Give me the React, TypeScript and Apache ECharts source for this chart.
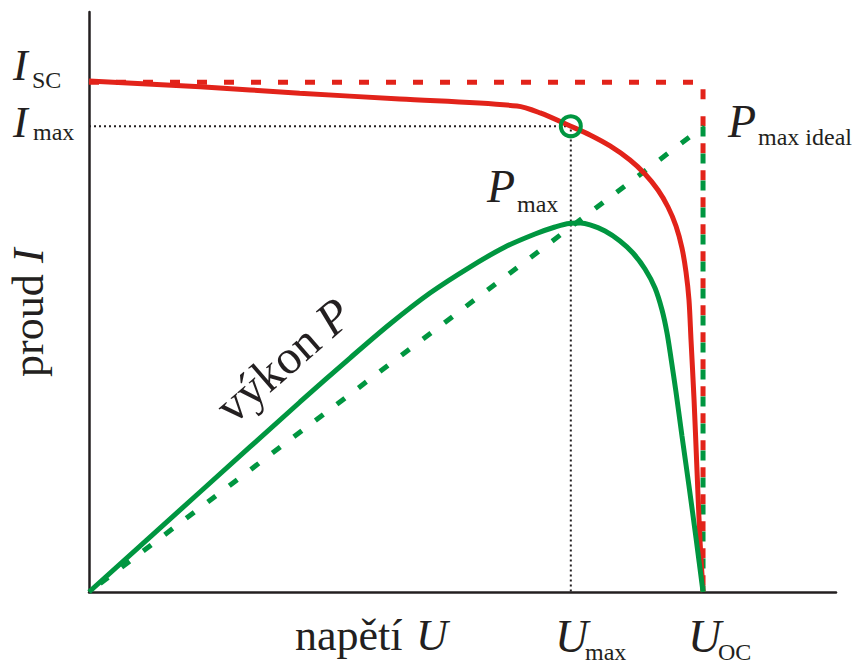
import React, { useEffect, useRef } from "react";
import * as echarts from "echarts";

// Voltage (normalised 0..100) and current / power values (normalised 0..100)
const U_MAX = 64.5;
const U_OC = 82.2;
const I_SC = 87.9;
const I_MAX = 80.3;
const P_IDEAL = 80.2;

const ivU = [0, 14.9, 28.2, 41.6, 57.3, 60.4, 64.5, 67.07, 69.75, 72.42, 74.43, 76.17, 77.51, 78.58, 79.38, 79.92, 80.32, 80.59, 81.0, 81.39, 81.79, 82.2];
const ivI = [88.1, 87.1, 86.0, 85.0, 83.8, 82.6, 80.3, 78.79, 76.9, 74.48, 72.07, 69.31, 66.38, 63.1, 59.31, 55.17, 50.34, 43.45, 33.1, 21.0, 9.0, 0];

const pU = [0, 14.86, 28.25, 34.94, 40.29, 45.65, 51.0, 55.69, 59.71, 62.38, 64.3, 65.8, 67.07, 69.08, 71.08, 72.82, 74.43, 75.77, 76.71, 77.38, 77.91, 78.58, 79.38, 80.32, 81.26, 82.2];
const pP = [0, 17.24, 32.76, 40.34, 46.21, 51.55, 56.03, 59.48, 61.72, 62.93, 63.55, 63.6, 63.28, 62.24, 60.52, 58.45, 55.69, 52.41, 48.62, 44.66, 40.34, 34.48, 26.9, 18.28, 9.31, 0];

const RED = "#e2231a";
const GREEN = "#009640";
const INK = "#231f20";
const SERIF = "Liberation Serif, serif";

function txt(text: string, x: number, baseline: number, size: number, italic: boolean) {
  return {
    type: "text",
    x,
    y: baseline - 0.34 * size,
    z: 100,
    style: {
      text,
      fill: INK,
      fontFamily: SERIF,
      fontSize: size,
      fontStyle: italic ? "italic" : "normal",
      align: "left",
      verticalAlign: "middle",
    },
  };
}

// rotated two-part label; origin = baseline start on screen
function rotLabel(x: number, y: number, deg: number, size: number, a: string, b: string, bOffset: number) {
  return {
    type: "group",
    x,
    y,
    rotation: (deg * Math.PI) / 180,
    z: 100,
    children: [txt(a, 0, 0, size, false), txt(b, bOffset, 0, size, true)],
  };
}

export default function App() {
  const ref = useRef<HTMLDivElement>(null);
  useEffect(() => {
    if (!ref.current) return;
    const chart = echarts.init(ref.current, undefined, { renderer: "svg" });
    const zip = (a: number[], b: number[]) => a.map((v, i) => [v, b[i]]);
    const axisCommon = {
      type: "value",
      min: 0,
      max: 100,
      axisLine: { show: true, lineStyle: { color: INK, width: 2.5 } },
      axisTick: { show: false },
      axisLabel: { show: false },
      splitLine: { show: false },
    };
    const SUB = 24;
    chart.setOption({
      animation: false,
      grid: { left: 89, top: 12, right: 21, bottom: 72 },
      xAxis: axisCommon,
      yAxis: axisCommon,
      series: [
        {
          type: "line",
          data: [[0, I_MAX], [U_MAX, I_MAX], [U_MAX, 0]],
          symbol: "none",
          lineStyle: { color: INK, width: 2, type: [2, 3] },
          z: 1,
        },
        {
          type: "line",
          data: [[0, I_SC], [U_OC, I_SC], [U_OC, 0]],
          symbol: "none",
          lineStyle: { color: RED, width: 5, type: [10, 17], cap: "butt" },
          z: 2,
        },
        {
          type: "line",
          data: [[0, 0], [U_OC, P_IDEAL], [U_OC, 0]],
          symbol: "none",
          lineStyle: { color: GREEN, width: 5, type: [10, 17], dashOffset: 13, cap: "butt" },
          z: 3,
        },
        {
          type: "line",
          data: zip(ivU, ivI),
          symbol: "none",
          smooth: 0.3,
          lineStyle: { color: RED, width: 5 },
          z: 4,
        },
        {
          type: "line",
          data: zip(pU, pP),
          symbol: "none",
          smooth: 0.3,
          lineStyle: { color: GREEN, width: 5 },
          z: 5,
        },
        {
          type: "scatter",
          data: [[U_MAX, I_MAX]],
          symbol: "circle",
          symbolSize: 20,
          itemStyle: { color: "rgba(0,0,0,0)", borderColor: GREEN, borderWidth: 4, opacity: 1 },
          z: 6,
        },
      ],
      graphic: [
        txt("I", 13, 80, 44, true),
        txt("SC", 32, 88, SUB, false),
        txt("I", 13, 137, 44, true),
        txt("max", 33, 140, SUB, false),
        txt("P", 487, 202, 46, true),
        txt("max", 517, 212, SUB, false),
        txt("P", 728, 137, 46, true),
        txt("max ideal", 758, 145, SUB, false),
        txt("U", 555, 652, 46, true),
        txt("max", 585, 660, SUB, false),
        txt("U", 688, 652, 46, true),
        txt("OC", 718, 660, SUB, false),
        txt("napětí", 295, 650, 44, false),
        txt("U", 416, 650, 44, true),
        rotLabel(43, 377, 90, 44, "proud", "I", 114),
        rotLabel(233, 425, 41, 48, "výkon", "P", 132),
      ],
    });
    return () => chart.dispose();
  }, []);
  return <div ref={ref} style={{ position: "fixed", left: 0, top: 0, width: 857, height: 664, background: "#fff" }} />;
}
